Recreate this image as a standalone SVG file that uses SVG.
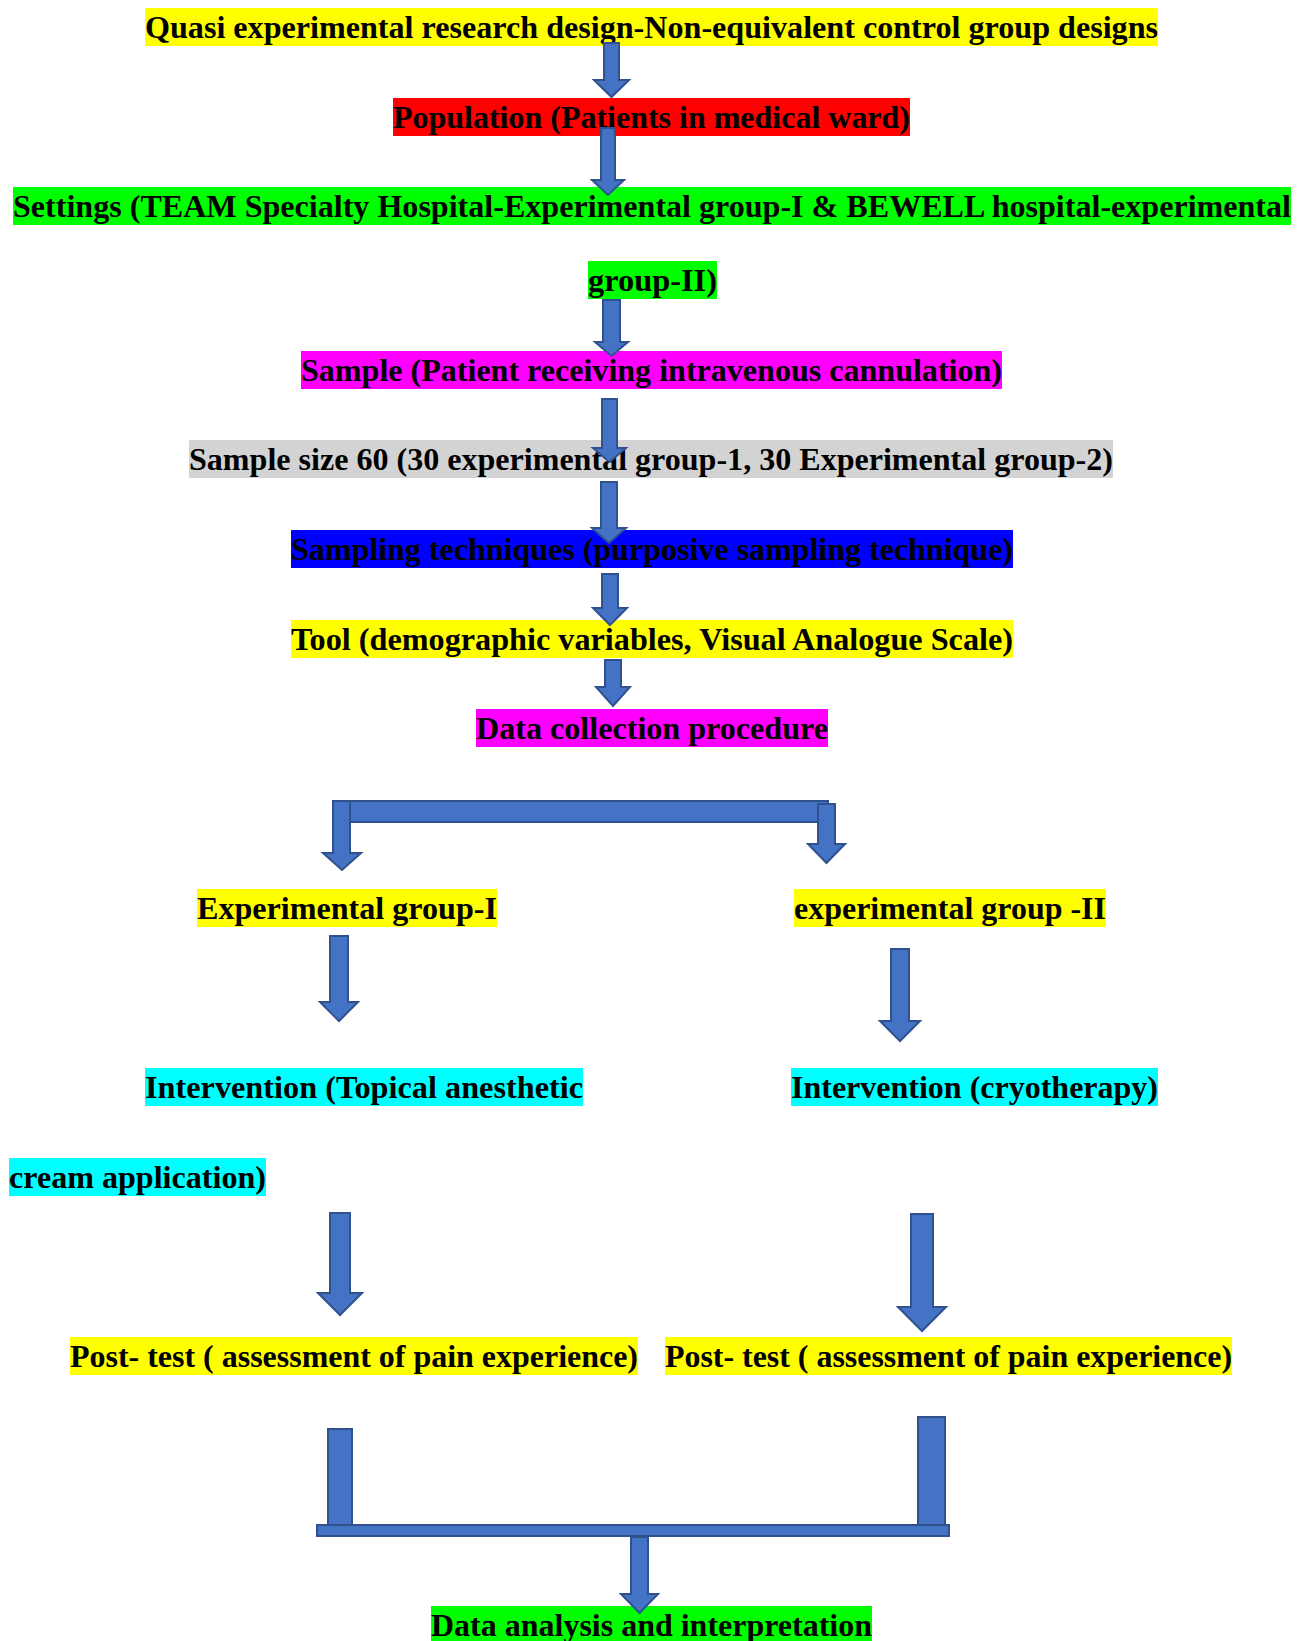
<svg xmlns="http://www.w3.org/2000/svg" width="1304" height="1641" viewBox="0 0 1304 1641">
<style>
  .t { font-family: "Liberation Serif", "Times New Roman", "DejaVu Serif", serif; font-weight: bold; font-size: 32px; fill: #000; }
  .arr { fill: #4472C4; stroke: #2F528F; stroke-width: 2; stroke-linejoin: miter; }
  .yel { fill: #FFFF00; } .red { fill: #FF0000; } .grn { fill: #00FF00; } .mag { fill: #FF00FF; }
  .gry { fill: #D3D3D3; } .blu { fill: #0000FF; } .cyn { fill: #00FFFF; }
</style>
<rect width="1304" height="1641" fill="#FFFFFF"/>
<g id="nodes">
  <g id="n-design"><rect class="yel" x="145" y="8" width="1013" height="38"/><text class="t" x="145" y="38" textLength="1013" lengthAdjust="spacingAndGlyphs">Quasi experimental research design-Non-equivalent control group designs</text></g>
  <g id="n-population"><rect class="red" x="393" y="98" width="517" height="38"/><text class="t" x="393" y="128" textLength="517" lengthAdjust="spacingAndGlyphs">Population (Patients in medical ward)</text></g>
  <g id="n-settings">
    <rect class="grn" x="13" y="187" width="1278" height="38"/><text class="t" x="13" y="217" textLength="1278" lengthAdjust="spacingAndGlyphs">Settings (TEAM Specialty Hospital-Experimental group-I &amp; BEWELL hospital-experimental</text>
    <rect class="grn" x="588" y="261" width="129" height="38"/><text class="t" x="588" y="291" textLength="129" lengthAdjust="spacingAndGlyphs">group-II)</text>
  </g>
  <g id="n-sample"><rect class="mag" x="301" y="351" width="701" height="38"/><text class="t" x="301" y="381" textLength="701" lengthAdjust="spacingAndGlyphs">Sample (Patient receiving intravenous cannulation)</text></g>
  <g id="n-size"><rect class="gry" x="189" y="440" width="924" height="38"/><text class="t" x="189" y="470" textLength="924" lengthAdjust="spacingAndGlyphs">Sample size 60 (30 experimental group-1, 30 Experimental group-2)</text></g>
  <g id="n-technique"><rect class="blu" x="291" y="530" width="722" height="38"/><text class="t" x="291" y="560" textLength="722" lengthAdjust="spacingAndGlyphs">Sampling techniques (purposive sampling technique)</text></g>
  <g id="n-tool"><rect class="yel" x="291" y="620" width="722" height="38"/><text class="t" x="291" y="650" textLength="722" lengthAdjust="spacingAndGlyphs">Tool (demographic variables, Visual Analogue Scale)</text></g>
  <g id="n-dcp"><rect class="mag" x="476" y="709" width="352" height="38"/><text class="t" x="476" y="739" textLength="352" lengthAdjust="spacingAndGlyphs">Data collection procedure</text></g>
  <g id="n-exp1"><rect class="yel" x="197" y="889" width="300" height="38"/><text class="t" x="197" y="919" textLength="300" lengthAdjust="spacingAndGlyphs">Experimental group-I</text></g>
  <g id="n-exp2"><rect class="yel" x="794" y="889" width="312" height="38"/><text class="t" x="794" y="919" textLength="312" lengthAdjust="spacingAndGlyphs">experimental group -II</text></g>
  <g id="n-int1">
    <rect class="cyn" x="145" y="1068" width="438" height="38"/><text class="t" x="145" y="1098" textLength="438" lengthAdjust="spacingAndGlyphs">Intervention (Topical anesthetic</text>
    <rect class="cyn" x="9" y="1158" width="257" height="38"/><text class="t" x="9" y="1188" textLength="257" lengthAdjust="spacingAndGlyphs">cream application)</text>
  </g>
  <g id="n-int2"><rect class="cyn" x="791" y="1068" width="367" height="38"/><text class="t" x="791" y="1098" textLength="367" lengthAdjust="spacingAndGlyphs">Intervention (cryotherapy)</text></g>
  <g id="n-post1"><rect class="yel" x="70" y="1337" width="568" height="38"/><text class="t" x="70" y="1367" textLength="568" lengthAdjust="spacingAndGlyphs">Post- test ( assessment of pain experience)</text></g>
  <g id="n-post2"><rect class="yel" x="665" y="1337" width="567" height="38"/><text class="t" x="665" y="1367" textLength="567" lengthAdjust="spacingAndGlyphs">Post- test ( assessment of pain experience)</text></g>
  <g id="n-analysis"><rect class="grn" x="431" y="1606" width="441" height="38"/><text class="t" x="431" y="1636" textLength="441" lengthAdjust="spacingAndGlyphs">Data analysis and interpretation</text></g>
</g>
<g id="connectors">
  <polygon class="arr" points="604,43 619,43 619,80 629,80 611.5,97 594,80 604,80"/>
  <polygon class="arr" points="601,128 615,128 615,180 624,180 608,195 592,180 601,180"/>
  <polygon class="arr" points="603,300 620,300 620,342 628,342 611.5,356 595,342 603,342"/>
  <polygon class="arr" points="602,399 617,399 617,448 626,448 609.5,462 593,448 602,448"/>
  <polygon class="arr" points="601,482 617,482 617,528 626,528 609,543 592,528 601,528"/>
  <polygon class="arr" points="602,574 618,574 618,608 627,608 610,625 593,608 602,608"/>
  <polygon class="arr" points="605,660 621,660 621,687 630,687 613,706 596,687 605,687"/>
  <rect class="arr" x="333" y="801" width="495" height="21"/>
  <polygon class="arr" points="333,801 350,801 350,853 361,853 342,870 323,853 333,853"/>
  <polygon class="arr" points="818,804 835,804 835,844 845,844 826.5,863 808,844 818,844"/>
  <polygon class="arr" points="330,936 348,936 348,1002 358,1002 339,1021 320,1002 330,1002"/>
  <polygon class="arr" points="891,949 909,949 909,1021 920,1021 900,1041 880,1021 891,1021"/>
  <polygon class="arr" points="330,1213 350,1213 350,1293 362,1293 340,1315 318,1293 330,1293"/>
  <polygon class="arr" points="911,1214 933,1214 933,1307 946,1307 922,1331 898,1307 911,1307"/>
  <rect class="arr" x="328" y="1429" width="24" height="96"/>
  <rect class="arr" x="918" y="1417" width="27" height="108"/>
  <rect class="arr" x="317" y="1525" width="632" height="11"/>
  <polygon class="arr" points="631,1537 648,1537 648,1594 658,1594 639.5,1613 621,1594 631,1594"/>
</g>
</svg>
